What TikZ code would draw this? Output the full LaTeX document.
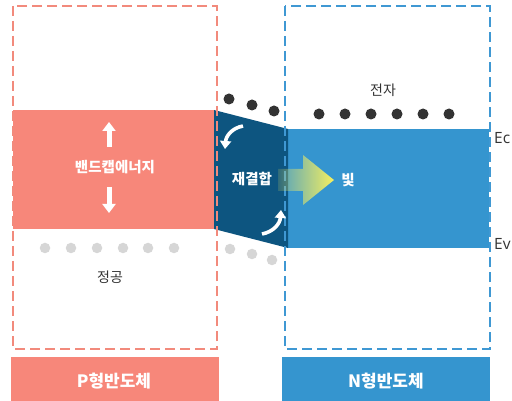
\documentclass[tikz,border=0pt]{standalone}
\usepackage{fontspec}
\newfontfamily\kr{Noto Sans CJK KR}
\newfontfamily\lat{Open Sans}
\usetikzlibrary{arrows.meta,fadings}
\definecolor{salmon}{HTML}{F7877A}
\definecolor{dblue}{HTML}{0D5580}
\definecolor{mblue}{HTML}{3595CF}
\definecolor{dred}{HTML}{F28A7C}
\definecolor{dashblue}{HTML}{3F98D3}
\definecolor{graydot}{HTML}{D6D6D6}
\definecolor{blackdot}{HTML}{333333}
\definecolor{txt}{HTML}{333333}
\definecolor{lyellow}{HTML}{F7F060}
\tikzfading[name=fadein, left color=transparent!85, right color=transparent!0]
\tikzset{
  dbox/.style={line width=2.2pt, dash pattern=on 10pt off 5pt},
  edot/.style={circle, fill=blackdot, inner sep=0pt, minimum size=11pt},
  hdot/.style={circle, fill=graydot, inner sep=0pt, minimum size=10.5pt},
  wlabel/.style={text=white, font=\kr\bfseries\fontsize{14.5}{16}\selectfont, inner sep=0pt},
  blabel/.style={text=txt, font=\kr\fontsize{14}{16}\selectfont, inner sep=0pt},
  barlabel/.style={text=white, font=\kr\bfseries\fontsize{17}{20}\selectfont, inner sep=0pt},
  elabel/.style={text=txt, font=\lat\fontsize{15.5}{17}\selectfont, inner sep=0pt, anchor=west},
  blockarrow/.style={white, line width=5pt, -{Triangle[width=13pt,length=9pt]}},
  curvearrow/.style={white, line width=3.6pt, -{Triangle[width=11pt,length=8pt]}},
}
\begin{document}
\begin{tikzpicture}[x=1pt,y=-1pt]
\useasboundingbox (0,0) rectangle (512,401);
\fill[white] (0,0) rectangle (512,401);
% bands
\fill[salmon] (13,110) rectangle (215,229);
\fill[mblue] (288,129) rectangle (489,248);
\fill[dblue] (214,110) -- (288,129) -- (288,248) -- (214,229) -- cycle;
% dashed boxes
\draw[dred, dbox] (13,6) rectangle (217,349);
\draw[dashblue, dbox] (285,6) rectangle (490,349);
% bottom bars
\fill[salmon] (11,357) rectangle (219,401);
\fill[mblue] (282,357) rectangle (490,401);
\node[barlabel] (plabel) at (114,381) {P형반도체};
\node[barlabel] (nlabel) at (386,381) {N형반도체};
% electrons
\foreach \i/\x/\y in {1/229/99, 2/252/105, 3/274/111, 4/319/114, 5/345/114, 6/371/114, 7/397/114, 8/423/114, 9/449/114}
  \node[edot] (e\i) at (\x,\y) {};
% holes
\foreach \i/\x/\y in {1/45/248, 2/71/248, 3/97/248, 4/123/248, 5/148/248, 6/174/248, 7/230/249, 8/252/254, 9/272/260}
  \node[hdot] (h\i) at (\x,\y) {};
\node[blabel] (jeonja) at (383,90) {전자};
\node[blabel] (jeonggong) at (110,277) {정공};
% Ec / Ev
\node[elabel] (ec) at (494,138) {Ec};
\node[elabel] (ev) at (494,244) {Ev};
% band gap
\coordinate (ua1) at (109,147);
\coordinate (ua2) at (109,122);
\coordinate (da1) at (109,187);
\coordinate (da2) at (109,213);
\draw[blockarrow] (ua1) -- (ua2);
\draw[blockarrow] (da1) -- (da2);
\node[wlabel] (gap) at (115,167) {밴드캡에너지};
% light arrow
\fill[lyellow, path fading=fadein] (278,169) -- (303,169) -- (303,155) -- (334,180) -- (303,205) -- (303,191) -- (278,191) -- cycle;
\node[wlabel] (recomb) at (252,179) {재결합};
\node[wlabel] (light) at (348,180) {빛};
% curved arrows
\coordinate (ca1) at (243,126);
\coordinate (ca2) at (225,149);
\coordinate (cb1) at (262,234);
\coordinate (cb2) at (281,210);
\draw[curvearrow] (ca1) .. controls (232,128) and (226,136) .. (ca2);
\draw[curvearrow] (cb1) .. controls (273,232) and (280,224) .. (cb2);
\end{tikzpicture}
\end{document}
